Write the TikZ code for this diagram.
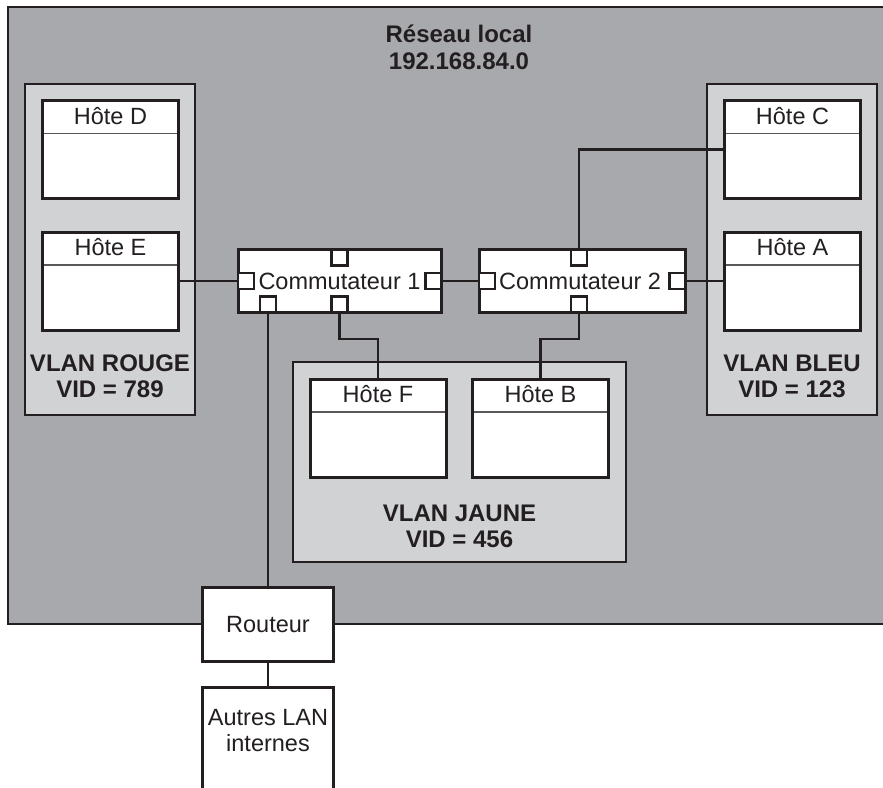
\documentclass[tikz,border=0pt]{standalone}
\usepackage{fontspec}
\setmainfont{Liberation Sans}
\usetikzlibrary{positioning}
\begin{document}
\begin{tikzpicture}[x=1pt,y=-1pt,font=\fontsize{23.5}{26}\selectfont,
  every node/.style={text=trait},
  zone/.style={draw=trait,line width=1.3pt},
  lien/.style={draw=trait,line width=2.8pt},
  boite/.style={draw=trait,fill=white,line width=3pt,inner sep=0pt},
  hote/.style={boite,minimum width=136pt,minimum height=98pt,
    path picture={\draw[line width=1.4pt,trait!75] ([yshift=-33pt]path picture bounding box.north west) -- ([yshift=-33pt]path picture bounding box.north east);}},
  commut/.style={boite,minimum height=63pt},
  port/.style={draw=trait,fill=white,line width=2.8pt,minimum width=16pt,minimum height=16pt,inner sep=0pt},
  titre/.style={font=\fontsize{24}{26}\selectfont\bfseries,align=center}]
\definecolor{grisfonce}{RGB}{168,169,173}
\definecolor{grisclair}{RGB}{209,210,212}
\definecolor{trait}{RGB}{35,31,32}
\useasboundingbox (0,0) rectangle (883,787);
\clip (0,0) rectangle (883,787);
% zones
\draw[zone,fill=grisfonce] (8,7) rectangle (910,624);
\draw[zone,fill=grisclair] (25,84) rectangle (195,415);
\draw[zone,fill=grisclair] (707,84) rectangle (877,415);
\draw[zone,fill=grisclair] (293,362) rectangle (626,562);
\node[titre,font=\fontsize{24}{27.5}\selectfont\bfseries] (reseau) at (459,47.5) {R\'eseau local\\192.168.84.0};
\node[titre] (rouge) at (110,376.5) {VLAN ROUGE\\VID = 789};
\node[titre] (bleu) at (792,376.5) {VLAN BLEU\\VID = 123};
\node[titre] (jaune) at (459.5,526) {VLAN JAUNE\\VID = 456};
% hotes
\node[hote,label={[name=hD-t,anchor=center,yshift=-17pt]north:H\^ote D}] (hD) at (110.5,149.5) {};
\node[hote,label={[name=hE-t,anchor=center,yshift=-17pt]north:H\^ote E}] (hE) at (110.5,281) {};
\node[hote,label={[name=hC-t,anchor=center,yshift=-17pt]north:H\^ote C}] (hC) at (792.5,149.5) {};
\node[hote,label={[name=hA-t,anchor=center,yshift=-17pt]north:H\^ote A}] (hA) at (792.5,281) {};
\node[hote,label={[name=hF-t,anchor=center,yshift=-17pt]north:H\^ote F}] (hF) at (378,428) {};
\node[hote,label={[name=hB-t,anchor=center,yshift=-17pt]north:H\^ote B}] (hB) at (540.5,428) {};
% commutateurs et ports
\node[commut,minimum width=203pt] (c1) at (339.5,281) {Commutateur 1};
\node[port,anchor=north] (c1n) at (c1.north) {};
\node[port,anchor=west] (c1o) at (c1.west) {};
\node[port,anchor=east] (c1e) at (c1.east) {};
\node[port,anchor=south] (c1s1) at ([xshift=-71.5pt]c1.south) {};
\node[port,anchor=south] (c1s2) at (c1.south) {};
\node[commut,minimum width=206pt] (c2) at (582,281) {Commutateur 2\,};
\node[port,anchor=north] (c2n) at ([xshift=-3pt]c2.north) {};
\node[port,anchor=west] (c2o) at (c2.west) {};
\node[port,anchor=east] (c2e) at (c2.east) {};
\node[port,anchor=south] (c2s) at ([xshift=-3pt]c2.south) {};
% routeur
\node[boite,minimum width=131pt,minimum height=74pt] (rt) at (268,624.5) {Routeur};
\node[fill=white,minimum width=131pt,minimum height=120pt,inner sep=0pt] (al) at (268,747.3) {};
\draw[line width=3pt,draw=trait] (al.south west) -- (al.north west) -- (al.north east) -- (al.south east);
\node[align=center,font=\fontsize{23.5}{26}\selectfont] (al-t) at (268,731) {Autres LAN\\internes};
% liens
\draw[lien] (hE.east) -- (c1o.west);
\draw[lien] (c1e.east) -- (c2o.west);
\draw[lien] (c2e.east) -- (hA.west);
\draw[lien] (c2n.north) |- (hC.west);
\draw[lien] (c1s2.south) -- ++(0,25) -| (hF.north);
\draw[lien] (c2s.south) -- ++(0,25) -| (hB.north);
\draw[lien] (c1s1.south) -- (rt.north);
\draw[lien] (rt.south) -- (al.north);
\end{tikzpicture}
\end{document}
